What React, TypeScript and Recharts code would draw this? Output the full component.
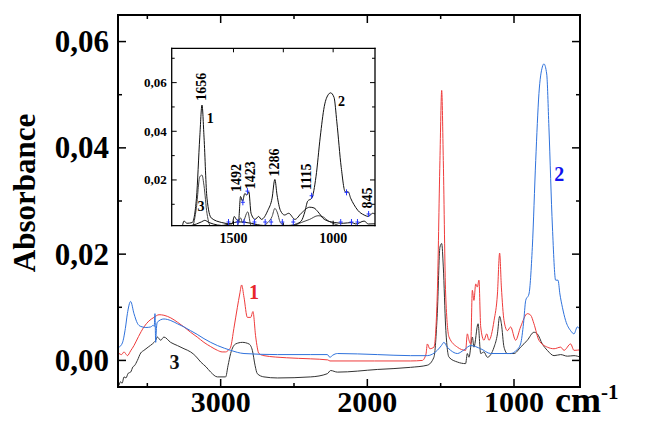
import React from 'react';
import { ComposedChart, Line, XAxis, YAxis, ReferenceDot, Label } from 'recharts';

const FONT = "'Liberation Serif','Times New Roman',Times,serif";

// wavenumber (as drawn on the main axis, cm-1), absorbance
const series1Points: [number, number][] = [
  [3693, 0.0013], [3676, 0.0011], [3659, 0.0016], [3646, 0.0012], [3636, 0.0009], [3614, 0.0018], [3591, 0.0028], [3560, 0.0045],
  [3523, 0.0063], [3490, 0.0074], [3455, 0.0081], [3420, 0.0086], [3387, 0.0085], [3340, 0.0080], [3295, 0.0072], [3250, 0.0063],
  [3205, 0.0053], [3160, 0.0044], [3114, 0.0034], [3068, 0.0026], [3022, 0.0019], [2990, 0.0016], [2966, 0.0016], [2945, 0.0020],
  [2932, 0.0025], [2910, 0.0060], [2886, 0.0100], [2870, 0.0125], [2857, 0.0142], [2841, 0.0119], [2818, 0.0081], [2795, 0.0081],
  [2780, 0.0092], [2761, 0.0044], [2739, 0.0013], [2705, 0.0009], [2550, 0.0005], [2386, 0.0003], [2270, 0.0001], [2255, -0.0001],
  [2159, -0.0001], [1950, -0.0001], [1705, -0.0001], [1625, 0.0000], [1600, 0.0012], [1591, 0.0031], [1574, 0.0022], [1546, 0.0025],
  [1523, 0.0125], [1505, 0.0376], [1493, 0.0508], [1482, 0.0376], [1466, 0.0125], [1443, 0.0044], [1386, 0.0025], [1330, 0.0019],
  [1318, 0.0050], [1307, 0.0038], [1295, 0.0031], [1284, 0.0132], [1273, 0.0113], [1261, 0.0144], [1250, 0.0138], [1239, 0.0151],
  [1227, 0.0063], [1205, 0.0038], [1186, 0.0050], [1171, 0.0038], [1136, 0.0075], [1113, 0.0125], [1098, 0.0202], [1086, 0.0138],
  [1068, 0.0075], [1045, 0.0056], [1023, 0.0063], [989, 0.0038], [955, 0.0063], [909, 0.0088], [886, 0.0085], [864, 0.0069],
  [830, 0.0038], [773, 0.0025], [727, 0.0022], [682, 0.0025], [659, 0.0019], [614, 0.0031], [591, 0.0019], [546, 0.0020],
];

const series2Points: [number, number][] = [
  [3693, 0.0025], [3670, 0.0033], [3650, 0.0060], [3636, 0.0088], [3614, 0.0111], [3591, 0.0088], [3568, 0.0070], [3545, 0.0064],
  [3510, 0.0062], [3477, 0.0063], [3460, 0.0066], [3453, 0.0064], [3448, 0.0088], [3443, 0.0034], [3438, 0.0060], [3432, 0.0072],
  [3387, 0.0078], [3340, 0.0075], [3295, 0.0069], [3250, 0.0063], [3205, 0.0056], [3160, 0.0049], [3114, 0.0041], [3068, 0.0034],
  [3022, 0.0028], [2975, 0.0023], [2932, 0.0019], [2841, 0.0013], [2613, 0.0011], [2386, 0.0011], [2273, 0.0011], [2255, 0.0006],
  [2235, 0.0010], [2204, 0.0013], [1932, 0.0011], [1705, 0.0009], [1591, 0.0009], [1523, 0.0019], [1495, 0.0028], [1478, 0.0034],
  [1455, 0.0025], [1432, 0.0019], [1386, 0.0013], [1340, 0.0020], [1295, 0.0028], [1227, 0.0022], [1159, 0.0013], [1023, 0.0013],
  [980, 0.0020], [955, 0.0031], [935, 0.0070], [920, 0.0113], [898, 0.0125], [875, 0.0213], [852, 0.0376], [830, 0.0502],
  [807, 0.0552], [796, 0.0558], [777, 0.0539], [762, 0.0439], [738, 0.0251], [716, 0.0151], [700, 0.0151], [687, 0.0125],
  [670, 0.0100], [648, 0.0075], [614, 0.0056], [591, 0.0050], [568, 0.0063], [546, 0.0056],
];

const series3Points: [number, number][] = [
  [3693, -0.0047], [3682, -0.0040], [3672, -0.0043], [3659, -0.0031], [3646, -0.0033], [3630, -0.0024], [3614, -0.0022], [3598, -0.0012],
  [3588, -0.0010], [3568, 0.0000], [3545, 0.0014], [3523, 0.0019], [3490, 0.0026], [3466, 0.0031], [3443, 0.0038], [3432, 0.0044],
  [3409, 0.0038], [3387, 0.0044], [3341, 0.0034], [3295, 0.0028], [3250, 0.0022], [3205, 0.0016], [3170, 0.0008], [3136, -0.0003],
  [3100, -0.0012], [3068, -0.0022], [3022, -0.0031], [2966, -0.0031], [2950, -0.0010], [2932, 0.0013], [2898, 0.0031], [2852, 0.0034],
  [2807, 0.0031], [2784, 0.0019], [2765, -0.0010], [2750, -0.0025], [2705, -0.0031], [2613, -0.0033], [2386, -0.0031], [2273, -0.0025],
  [2250, -0.0019], [2204, -0.0022], [1932, -0.0017], [1705, -0.0013], [1591, -0.0009], [1546, 0.0006], [1523, 0.0088], [1505, 0.0213],
  [1493, 0.0220], [1482, 0.0176], [1466, 0.0063], [1443, 0.0006], [1386, -0.0003], [1330, -0.0006], [1318, 0.0013], [1307, 0.0006],
  [1284, 0.0044], [1273, 0.0025], [1245, 0.0069], [1227, 0.0013], [1205, 0.0016], [1182, 0.0006], [1136, 0.0025], [1113, 0.0050],
  [1098, 0.0083], [1086, 0.0069], [1068, 0.0025], [1045, 0.0013], [1000, 0.0013], [955, 0.0025], [909, 0.0038], [864, 0.0053],
  [841, 0.0050], [807, 0.0031], [773, 0.0019], [727, 0.0009], [682, 0.0011], [636, 0.0008], [591, 0.0009], [546, 0.0006],
];

// axis ticks
const mainXTicks = [3500, 3000, 2500, 2000, 1500, 1000];
const mainYTicks = [0, 0.01, 0.02, 0.03, 0.04, 0.05, 0.06];
const insetXTicks = [1500, 1250, 1000];
const insetYTicks = [0.01, 0.02, 0.03, 0.04, 0.05, 0.06, 0.07];

// main-axis wavenumber -> true wavenumber used by the inset axis
const insetScale = 0.9254;
const insetShift = 276.4;

// text annotations
const mainNotes = [
  { x: 2773, y: 0.01285, text: '1', color: '#e8262a' },
  { x: 691, y: 0.035, text: '2', color: '#1111ee' },
  { x: 3315, y: -0.0003, text: '3', color: '#111' },
];
const insetPeakNotes = [
  { x: 1658, y: 0.0583, text: '1656' },
  { x: 1486, y: 0.0208, text: '1492' },
  { x: 1417, y: 0.0219, text: '1423' },
  { x: 1292, y: 0.0272, text: '1286' },
  { x: 1133, y: 0.0213, text: '1115' },
  { x: 827, y: 0.0126, text: '845' },
];
const insetCurveNotes = [
  { x: 1617, y: 0.0453, text: '1' },
  { x: 958, y: 0.0522, text: '2' },
  { x: 1663, y: 0.009, text: '3' },
];
const insetMarks: [number, number][] = [
  [1525, 0.0023], [1478, 0.0023], [1447, 0.0023], [1395, 0.0023], [1341, 0.0023], [1311, 0.0023], [1255, 0.0023], [1200, 0.0023],
  [962, 0.0023], [908, 0.0023], [878, 0.0023], [1453, 0.0104], [1430, 0.0150], [1108, 0.0131], [933, 0.0145], [822, 0.0056],
];

const toRows = (pts: [number, number][]) => pts.map(([x, y]) => ({ x, y }));
const toInsetRows = (pts: [number, number][]) =>
  pts.map(([x, y]) => ({ x: x * insetScale + insetShift, y })).filter((p) => p.x > 650 && p.x < 1950);

const fmtComma = (v: number) => v.toFixed(2).replace('.', ',');

type TickCfg = {
  side: 'bottom' | 'top' | 'left' | 'right';
  isMajor: (v: number) => boolean;
  major: number;
  minor: number;
  sw: number;
  label?: (v: number) => string;
  fontSize?: number;
  gap?: number;
};

function makeTick(cfg: TickCfg) {
  return (props: any) => {
    const { x, y, payload } = props;
    const v = payload.value as number;
    const mj = cfg.isMajor(v);
    const len = mj ? cfg.major : cfg.minor;
    let x2 = x;
    let y2 = y;
    if (cfg.side === 'bottom') y2 = y - len;
    if (cfg.side === 'top') y2 = y + len;
    if (cfg.side === 'left') x2 = x + len;
    if (cfg.side === 'right') x2 = x - len;
    let label: React.ReactNode = null;
    if (mj && cfg.label) {
      const fs = cfg.fontSize || 12;
      if (cfg.side === 'bottom') {
        label = (
          <text x={x} y={y + (cfg.gap || 0)} textAnchor="middle" fontFamily={FONT} fontWeight="bold" fontSize={fs} fill="#000">
            {cfg.label(v)}
          </text>
        );
      } else if (cfg.side === 'left') {
        label = (
          <text x={x - (cfg.gap || 0)} y={y + fs * 0.34} textAnchor="end" fontFamily={FONT} fontWeight="bold" fontSize={fs} fill="#000">
            {cfg.label(v)}
          </text>
        );
      }
    }
    return (
      <g>
        <line x1={x} y1={y} x2={x2} y2={y2} stroke="#000" strokeWidth={cfg.sw} />
        {label}
      </g>
    );
  };
}

const isMajorX1000 = (v: number) => Math.round(v) % 1000 === 0;
const isMajorX500 = (v: number) => Math.round(v) % 500 === 0;
const isMajorY02 = (v: number) => Math.round(v * 1000) % 20 === 0;

const mainFrame = { stroke: '#000', strokeWidth: 2, strokeLinecap: 'square' as const };
const insetFrame = { stroke: '#000', strokeWidth: 1.3, strokeLinecap: 'square' as const };

const noteShape = (text: string, color: string, size: number, rotate: boolean) => (p: any) => (
  <text
    x={p.cx}
    y={p.cy}
    textAnchor="middle"
    dominantBaseline="central"
    fontFamily={FONT}
    fontWeight="bold"
    fontSize={size}
    fill={color}
    transform={rotate ? `rotate(-90, ${p.cx}, ${p.cy})` : undefined}
  >
    {text}
  </text>
);

const markShape = (p: any) => (
  <g>
    <line x1={p.cx} y1={p.cy - 4} x2={p.cx} y2={p.cy + 2} stroke="#2233ff" strokeWidth={1} />
    <line x1={p.cx - 2} y1={p.cy - 1} x2={p.cx + 2} y2={p.cy - 1} stroke="#2233ff" strokeWidth={1} />
  </g>
);

export default function App() {
  const d1 = toRows(series1Points);
  const d2 = toRows(series2Points);
  const d3 = toRows(series3Points);
  const i1 = toInsetRows(series1Points);
  const i2 = toInsetRows(series2Points);
  const i3 = toInsetRows(series3Points);

  return (
    <div style={{ position: 'absolute', left: 0, top: 0, width: 663, height: 423, background: '#fff' }}>
      <ComposedChart width={663} height={423} margin={{ top: 14, right: 82, bottom: 35, left: 117 }}>
        <XAxis
          xAxisId="b"
          dataKey="x"
          type="number"
          domain={[550, 3700]}
          reversed
          allowDataOverflow
          ticks={mainXTicks}
          interval={0}
          height={1}
          tickSize={0}
          tickMargin={0}
          tickLine={false}
          axisLine={mainFrame}
          tick={makeTick({ side: 'bottom', isMajor: isMajorX1000, major: 8, minor: 4, sw: 1.5, label: (v) => String(v), fontSize: 30, gap: 25 })}
        >
          <Label
            content={(p: any) => {
              const vb = p.viewBox || { x: 118, y: 387, width: 462 };
              return (
                <text x={vb.x + vb.width - 25} y={vb.y + 25} fontFamily={FONT} fontWeight="bold" fontSize={36} fill="#000">
                  cm
                  <tspan dy={-13} fontSize={21}>-1</tspan>
                </text>
              );
            }}
          />
        </XAxis>
        <XAxis
          xAxisId="t"
          orientation="top"
          dataKey="x"
          type="number"
          domain={[550, 3700]}
          reversed
          allowDataOverflow
          ticks={mainXTicks}
          interval={0}
          height={1}
          tickSize={0}
          tickMargin={0}
          tickLine={false}
          axisLine={mainFrame}
          tick={makeTick({ side: 'top', isMajor: isMajorX1000, major: 8, minor: 4, sw: 1.5 })}
        />
        <YAxis
          yAxisId="l"
          type="number"
          domain={[-0.005, 0.065]}
          allowDataOverflow
          ticks={mainYTicks}
          interval={0}
          width={1}
          tickSize={0}
          tickMargin={0}
          tickLine={false}
          axisLine={mainFrame}
          tick={makeTick({ side: 'left', isMajor: isMajorY02, major: 8, minor: 4, sw: 1.5, label: fmtComma, fontSize: 31, gap: 9 })}
        >
          <Label
            content={(p: any) => {
              const vb = p.viewBox || { x: 117, y: 15, width: 1, height: 372 };
              const cy = vb.y + vb.height / 2 - 8;
              return (
                <text
                  transform={`translate(35, ${cy}) rotate(-90)`}
                  textAnchor="middle"
                  fontFamily={FONT}
                  fontWeight="bold"
                  fontSize={31}
                  fill="#000"
                >
                  Absorbance
                </text>
              );
            }}
          />
        </YAxis>
        <YAxis
          yAxisId="r"
          orientation="right"
          type="number"
          domain={[-0.005, 0.065]}
          allowDataOverflow
          ticks={mainYTicks}
          interval={0}
          width={1}
          tickSize={0}
          tickMargin={0}
          tickLine={false}
          axisLine={mainFrame}
          tick={makeTick({ side: 'right', isMajor: isMajorY02, major: 8, minor: 4, sw: 1.5 })}
        />
        <Line xAxisId="b" yAxisId="l" data={d3} dataKey="y" type="monotone" stroke="#333" strokeWidth={1} dot={false} isAnimationActive={false} />
        <Line xAxisId="b" yAxisId="l" data={d1} dataKey="y" type="monotone" stroke="#ef3b3b" strokeWidth={1} dot={false} isAnimationActive={false} />
        <Line xAxisId="b" yAxisId="l" data={d2} dataKey="y" type="monotone" stroke="#2f72dc" strokeWidth={1} dot={false} isAnimationActive={false} />
        {mainNotes.map((n, i) => (
          <ReferenceDot key={'mn' + i} xAxisId="b" yAxisId="l" x={n.x} y={n.y} r={0} ifOverflow="visible" shape={noteShape(n.text, n.color, 20, false)} />
        ))}
      </ComposedChart>

      <div style={{ position: 'absolute', left: 130, top: 30, width: 260, height: 230 }}>
        <ComposedChart width={260} height={230} margin={{ top: 17.3, right: 14, bottom: 33.3, left: 40.7 }}>
          <XAxis
            xAxisId="b"
            dataKey="x"
            type="number"
            domain={[790, 1810]}
            reversed
            allowDataOverflow
            ticks={insetXTicks}
            interval={0}
            height={1}
            tickSize={0}
            tickMargin={0}
            tickLine={false}
            axisLine={insetFrame}
            tick={makeTick({ side: 'bottom', isMajor: isMajorX500, major: 5, minor: 3, sw: 1, label: (v) => String(v), fontSize: 14, gap: 17 })}
          />
          <XAxis
            xAxisId="t"
            orientation="top"
            dataKey="x"
            type="number"
            domain={[790, 1810]}
            reversed
            allowDataOverflow
            ticks={insetXTicks}
            interval={0}
            height={1}
            tickSize={0}
            tickMargin={0}
            tickLine={false}
            axisLine={insetFrame}
            tick={makeTick({ side: 'top', isMajor: isMajorX500, major: 4, minor: 4, sw: 1 })}
          />
          <YAxis
            yAxisId="l"
            type="number"
            domain={[0.0012, 0.0741]}
            allowDataOverflow
            ticks={insetYTicks}
            interval={0}
            width={1}
            tickSize={0}
            tickMargin={0}
            tickLine={false}
            axisLine={insetFrame}
            tick={makeTick({ side: 'left', isMajor: isMajorY02, major: 5, minor: 3, sw: 1, label: fmtComma, fontSize: 13, gap: 5 })}
          />
          <YAxis
            yAxisId="r"
            orientation="right"
            type="number"
            domain={[0.0012, 0.0741]}
            allowDataOverflow
            ticks={insetYTicks}
            interval={0}
            width={1}
            tickSize={0}
            tickMargin={0}
            tickLine={false}
            axisLine={insetFrame}
            tick={makeTick({ side: 'right', isMajor: isMajorY02, major: 5, minor: 3, sw: 1 })}
          />
          <Line xAxisId="b" yAxisId="l" data={i3} dataKey="y" type="monotone" stroke="#444" strokeWidth={1} dot={false} isAnimationActive={false} />
          <Line xAxisId="b" yAxisId="l" data={i1} dataKey="y" type="monotone" stroke="#111" strokeWidth={1} dot={false} isAnimationActive={false} />
          <Line xAxisId="b" yAxisId="l" data={i2} dataKey="y" type="monotone" stroke="#111" strokeWidth={1} dot={false} isAnimationActive={false} />
          {insetMarks.map(([x, y], i) => (
            <ReferenceDot key={'im' + i} xAxisId="b" yAxisId="l" x={x} y={y} r={0} ifOverflow="visible" shape={markShape} />
          ))}
          {insetPeakNotes.map((n, i) => (
            <ReferenceDot key={'ip' + i} xAxisId="b" yAxisId="l" x={n.x} y={n.y} r={0} ifOverflow="visible" shape={noteShape(n.text, '#000', 14, true)} />
          ))}
          {insetCurveNotes.map((n, i) => (
            <ReferenceDot key={'ic' + i} xAxisId="b" yAxisId="l" x={n.x} y={n.y} r={0} ifOverflow="visible" shape={noteShape(n.text, '#000', 14, false)} />
          ))}
        </ComposedChart>
      </div>
    </div>
  );
}
